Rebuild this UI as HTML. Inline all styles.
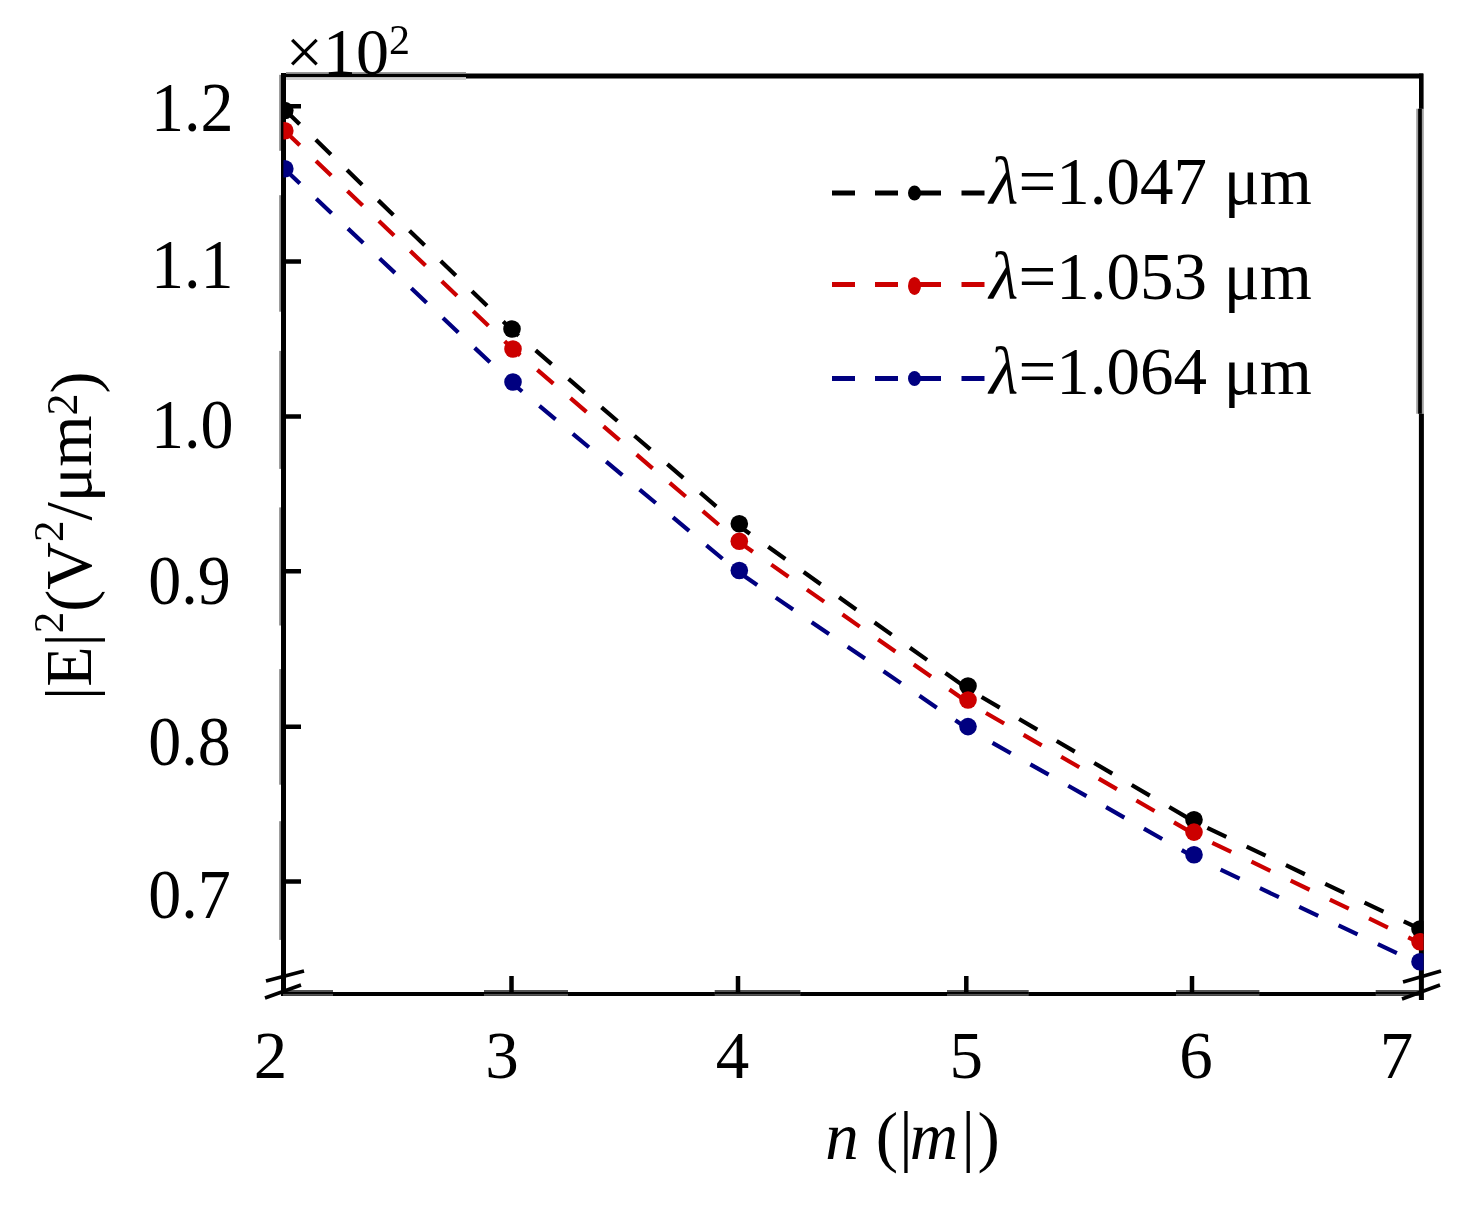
<!DOCTYPE html>
<html><head><meta charset="utf-8"><style>
html,body{margin:0;padding:0;background:#fff;width:1470px;height:1215px;overflow:hidden}
svg{display:block}
text{font-family:"Liberation Serif",serif;fill:#000}
</style></head><body>
<svg width="1470" height="1215" viewBox="0 0 1470 1215" style="will-change:transform">
<rect width="1470" height="1215" fill="#fff"/>
<defs><clipPath id="pc"><rect x="283.4" y="77" width="1140.2" height="914"/></clipPath></defs>

<!-- data lines -->
<g clip-path="url(#pc)" fill="none" stroke-width="4.2" stroke-dasharray="21 22.5" stroke-dashoffset="-1.5">
<polyline stroke="#000" points="283.5,108.5 512,330 739,526 968,689 1194,821.5 1420,929"/>
<polyline stroke="#cc0000" points="283.5,129.8 512,348.3 739,542 968,702.5 1194,834 1420,943"/>
<polyline stroke="#000080" points="283.5,168 512,383 739,572.5 968,729 1194,857 1420,964"/>
</g>

<!-- frame -->
<g fill="#858585"><rect x="279.2" y="74.8" width="2" height="76.0"/><rect x="279.2" y="195.2" width="2" height="116.5"/><rect x="279.2" y="350.9" width="2" height="118.0"/><rect x="279.2" y="507.4" width="2" height="118.1"/><rect x="279.2" y="669.1" width="2" height="115.6"/><rect x="279.2" y="821.2" width="2" height="118.7"/></g>

<g stroke="#000" fill="none">
<line x1="283.5" y1="73" x2="283.5" y2="995" stroke-width="5"/>
<line x1="466" y1="75.9" x2="1423" y2="75.9" stroke-width="5"/>
<rect x="286" y="72" width="180" height="1.8" fill="#9a9a9a" stroke="none"/>
<rect x="286" y="77.1" width="180" height="2.9" fill="#cfcfcf" stroke="none"/>
<rect x="281" y="73.8" width="185" height="3.3" fill="#000" stroke="none"/>
<line x1="1421.3" y1="73.5" x2="1421.3" y2="109" stroke-width="4.6"/>
<line x1="1420" y1="108.7" x2="1420" y2="413.7" stroke-width="7.6" stroke="#a0a0a0"/>
<line x1="1420" y1="108.7" x2="1420" y2="413.7" stroke-width="3.7"/>
<line x1="1421.4" y1="413.7" x2="1421.4" y2="1000" stroke-width="5"/>
<line x1="281" y1="994" x2="1421" y2="994" stroke-width="4"/>
<g stroke="none"><rect x="283.0" y="990" width="50.0" height="5.8" fill="#555"/><rect x="283.0" y="992" width="50.0" height="1.9" fill="#000"/><rect x="484.0" y="990" width="84.0" height="5.8" fill="#555"/><rect x="484.0" y="992" width="84.0" height="1.9" fill="#000"/><rect x="714.7" y="990" width="85.7" height="5.8" fill="#555"/><rect x="714.7" y="992" width="85.7" height="1.9" fill="#000"/><rect x="947.0" y="990" width="81.7" height="5.8" fill="#555"/><rect x="947.0" y="992" width="81.7" height="1.9" fill="#000"/><rect x="1176.0" y="990" width="83.4" height="5.8" fill="#555"/><rect x="1176.0" y="992" width="83.4" height="1.9" fill="#000"/><rect x="1375.7" y="990" width="43.3" height="5.8" fill="#555"/><rect x="1375.7" y="992" width="43.3" height="1.9" fill="#000"/></g>
<!-- y ticks -->
<path stroke-width="4.5" d="M283 106.3H301M283 261.4H301M283 416.5H301M283 571.2H301M283 726.8H301M283 881.5H301"/>
<!-- x ticks -->
<path stroke-width="4.5" d="M511.5 976V993M738 976V993M966.3 976V993M1192 976V993"/>
<!-- break marks -->
<path stroke-width="3.5" d="M266 981L304 971M265 998L301 985"/>
<path stroke-width="3.5" d="M1403 982L1441 971M1402 999L1440 985"/>
</g>

<!-- markers -->
<g clip-path="url(#pc)">
<g fill="#000"><circle cx="284.8" cy="110.5" r="8.8"/><circle cx="512" cy="329" r="8.8"/><circle cx="739.3" cy="523.7" r="8.8"/><circle cx="968" cy="686" r="8.8"/><circle cx="1194" cy="819.7" r="8.8"/><circle cx="1420" cy="929" r="8.8"/></g>
<g fill="#cc0000"><circle cx="284.8" cy="130.7" r="8.8"/><circle cx="513" cy="349" r="8.8"/><circle cx="739.3" cy="541.3" r="8.8"/><circle cx="968" cy="700" r="8.8"/><circle cx="1194" cy="832.1" r="8.8"/><circle cx="1420" cy="941.8" r="8.8"/></g>
<g fill="#000080"><circle cx="284.8" cy="168.8" r="8.8"/><circle cx="513" cy="382" r="8.8"/><circle cx="739.3" cy="570.5" r="8.8"/><circle cx="968" cy="726.6" r="8.8"/><circle cx="1194" cy="854.8" r="8.8"/><circle cx="1420" cy="961.8" r="8.8"/></g>
</g>

<!-- y tick labels -->
<g font-size="66">
<text transform="translate(150.9,130.5) scale(1,1.06)">1.2</text>
<text transform="translate(150.9,288.4) scale(1,1.06)">1.1</text>
<text transform="translate(150.9,448.2) scale(1,1.06)">1.0</text>
<text transform="translate(148.2,604.4) scale(1,1.06)">0.9</text>
<text transform="translate(148.2,764.5) scale(1,1.06)">0.8</text>
<text transform="translate(148.2,918.4) scale(1,1.06)">0.7</text>
</g>

<!-- x tick labels -->
<g font-size="67" text-anchor="middle">
<text x="270.5" y="1077.6">2</text>
<text x="502" y="1077.6">3</text>
<text x="732.4" y="1077.6">4</text>
<text x="966.2" y="1077.6">5</text>
<text x="1195.9" y="1077.6">6</text>
<text x="1396.6" y="1077.6">7</text>
</g>

<!-- x axis title -->
<g font-size="67">
<text x="825.3" y="1159" font-style="italic">n</text>
<text x="875.7" y="1159">(</text>
<text x="899.3" y="1159">|</text>
<text x="909.8" y="1159" font-style="italic">m</text>
<text x="961.6" y="1159">|</text>
<text x="977.4" y="1159">)</text>
</g>

<!-- multiplier -->
<text x="285.8" y="74" font-size="66">×10<tspan font-size="42" dy="-20">2</tspan></text>

<!-- y axis title -->
<g style="will-change:transform"><text transform="translate(91,700) rotate(-90)" font-size="66">|E|<tspan font-size="43" dy="-28">2</tspan><tspan dy="28">(V</tspan><tspan font-size="43" dy="-28">2</tspan><tspan dy="28">/μm</tspan><tspan font-size="44" dy="-14">2</tspan><tspan dy="18.7">)</tspan></text></g>

<!-- legend -->
<g fill="none" stroke-width="5">
<path stroke="#000" d="M832 193H855M875 193H898M918 193H941M961.5 193H984.5"/>
<path stroke="#cc0000" d="M832 284.5H855M875 284.5H898M918 284.5H941M961.5 284.5H984.5"/>
<path stroke="#000080" d="M832 378.5H855M875 378.5H898M918 378.5H941M961.5 378.5H984.5"/>
</g>
<ellipse cx="914.5" cy="193" rx="6.5" ry="7.5" fill="#000"/>
<ellipse cx="914.5" cy="285.9" rx="6.5" ry="9" fill="#cc0000"/>
<ellipse cx="914.5" cy="378.5" rx="6.5" ry="7.5" fill="#000080"/>
<g font-size="67">
<text x="989.3" y="204.4" font-style="italic">λ</text><text x="1018.5" y="204.4">=1.047 μm</text>
<text x="989.3" y="299.3" font-style="italic">λ</text><text x="1018.5" y="299.3">=1.053 μm</text>
<text x="989.3" y="394.3" font-style="italic">λ</text><text x="1018.5" y="394.3">=1.064 μm</text>
</g>
</svg>
</body></html>
